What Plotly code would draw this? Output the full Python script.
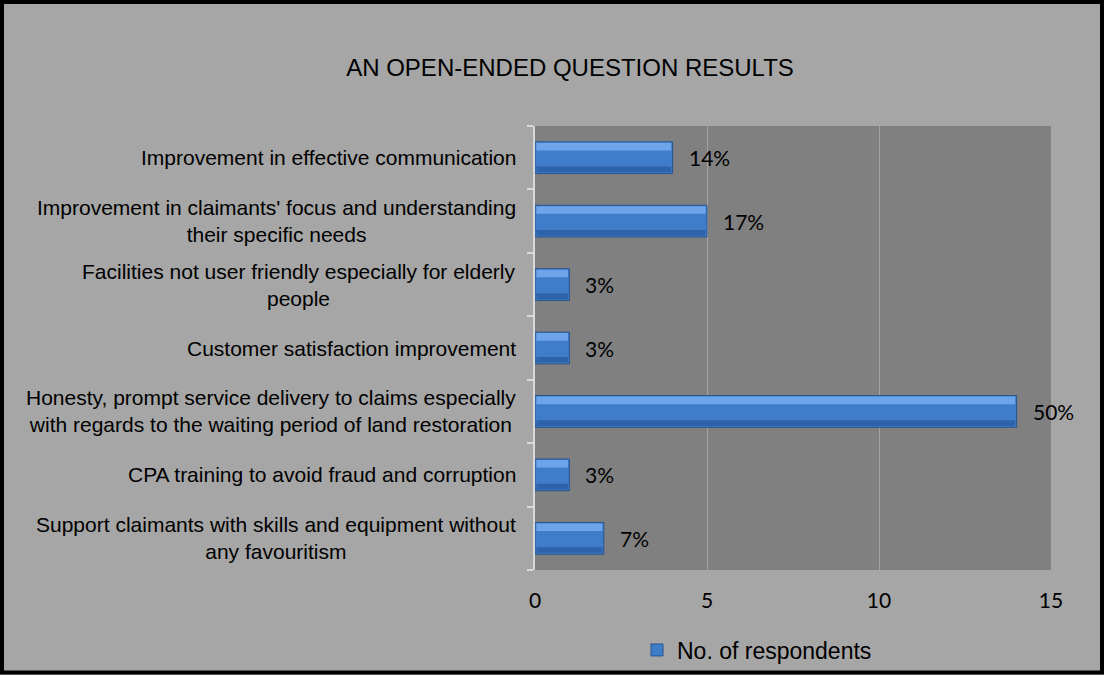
import plotly.graph_objects as go

categories = [
    "Improvement in effective communication",
    "Improvement in claimants' focus and understanding<br>their specific needs",
    "Facilities not user friendly especially for elderly<br>people",
    "Customer satisfaction improvement",
    "Honesty, prompt service delivery to claims especially<br>with regards to the waiting period of land restoration",
    "CPA training to avoid fraud and corruption",
    "Support claimants with skills and equipment without<br>any favouritism",
]
respondents = [4, 5, 1, 1, 14, 1, 2]
pct_labels = ["14%", "17%", "3%", "3%", "50%", "3%", "7%"]
x_ticks = [0, 5, 10, 15]
series_name = "No. of respondents"
title_text = "AN OPEN-ENDED QUESTION RESULTS"

# layout geometry (pixels)
W, H = 1104, 675
L, R, T, B = 535, 1051, 126, 570
pw, ph = R - L, B - T


def px_x(p):
    return (p - L) / pw


def px_y(p):
    return (B - p) / ph


ids = list(range(len(categories)))

fig = go.Figure()
fig.add_trace(go.Bar(
    y=ids, x=respondents, orientation="h", name=series_name,
    width=0.5,
    marker=dict(color="#3f7cca", line=dict(color="#28548f", width=1)),
    showlegend=True, hoverinfo="skip",
))
# bevel highlight (top strip)
fig.add_trace(go.Bar(
    y=ids, x=[v - 0.08 for v in respondents], base=0.04, orientation="h",
    width=0.12, offset=-0.235,
    marker=dict(color="#6ea5ea", line=dict(width=0)),
    showlegend=False, hoverinfo="skip",
))
# bevel shadow (bottom strip)
fig.add_trace(go.Bar(
    y=ids, x=[v - 0.08 for v in respondents], base=0.04, orientation="h",
    width=0.09, offset=0.14,
    marker=dict(color="#2f63a9", line=dict(width=0)),
    showlegend=False, hoverinfo="skip",
))

annotations = []
for i, (c, v, t) in enumerate(zip(categories, respondents, pct_labels)):
    annotations.append(dict(
        x=px_x(518), xref="paper", y=i, yref="y", text=c,
        xanchor="right", yanchor="middle", align="center", showarrow=False,
        font=dict(family="Liberation Sans, Arial", size=21, color="#000000"),
    ))
    annotations.append(dict(
        x=v, xref="x", y=i, yref="y", text=t, xshift=14,
        xanchor="left", yanchor="middle", showarrow=False,
        font=dict(family="Lato, Carlito, Calibri", size=21, color="#000000"),
    ))

fig.update_layout(
    width=W, height=H,
    margin=dict(l=L, r=W - R, t=T, b=H - B, autoexpand=False),
    paper_bgcolor="#a6a6a6",
    plot_bgcolor="#808080",
    barmode="overlay",
    title=dict(
        text=title_text, x=px_x(570), xref="paper", xanchor="center",
        y=1 - 68 / H, yref="container", yanchor="middle",
        font=dict(family="Liberation Sans, Arial", size=24, color="#000000"),
    ),
    xaxis=dict(
        range=[0, 15], tickvals=x_ticks, ticktext=[str(t) for t in x_ticks],
        showgrid=True, gridcolor="#a3a3a3", gridwidth=1,
        zeroline=False, showline=False, ticks="",
        tickfont=dict(family="Lato, Carlito, Calibri", size=21, color="#000000"),
        ticklabelstandoff=16, automargin=False,
    ),
    yaxis=dict(
        tickvals=ids, range=[6.5, -0.5],
        showticklabels=False, showgrid=False, zeroline=False,
        showline=True, linecolor="#d9d9d9", linewidth=2,
        ticks="outside", ticklen=6, tickcolor="#d9d9d9", tickwidth=2,
        tick0=-0.5, dtick=1, tickmode="linear", automargin=False,
    ),
    legend=dict(
        orientation="h", x=px_x(637), xanchor="left", y=px_y(650), yanchor="middle",
        font=dict(family="Liberation Sans, Arial", size=23, color="#000000"),
        bgcolor="rgba(0,0,0,0)", itemwidth=30,
    ),
    annotations=annotations,
    shapes=[dict(
        type="rect", xref="paper", yref="paper",
        x0=px_x(2), x1=px_x(1102), y0=px_y(672.5), y1=px_y(2),
        line=dict(color="#000000", width=4), fillcolor="rgba(0,0,0,0)", layer="above",
    )],
)

fig.write_html("out.html")
